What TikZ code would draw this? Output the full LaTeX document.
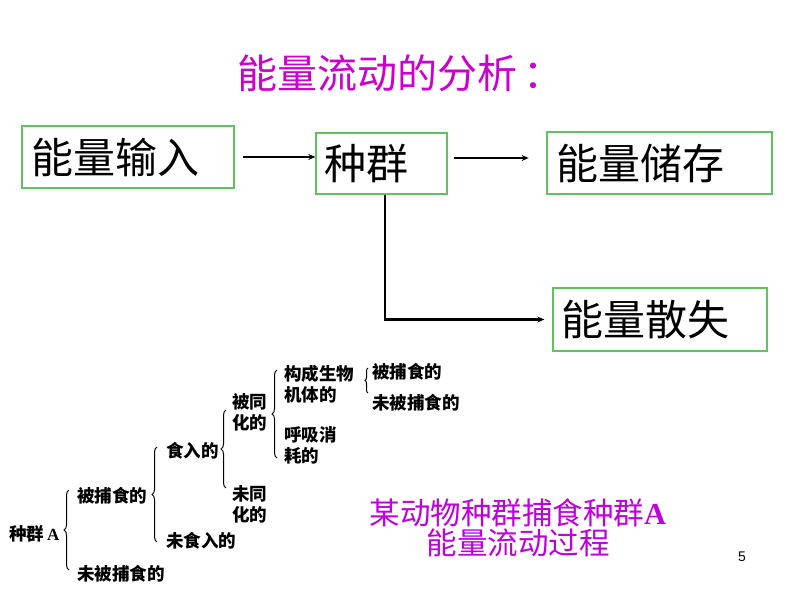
\documentclass[tikz,border=0pt]{standalone}
\usepackage{fontspec}
\setmainfont{Liberation Serif}
\newfontfamily\cjk{Noto Sans CJK SC}
\newfontfamily\numfont{Liberation Sans}
\usetikzlibrary{decorations.pathreplacing,arrows.meta}
\definecolor{ttl}{RGB}{204,0,204}
\definecolor{capc}{RGB}{190,0,220}
\definecolor{bgreen}{RGB}{95,195,95}
\begin{document}
\begin{tikzpicture}[x=1pt,y=-1pt,
  bigbox/.style={draw=bgreen, line width=1.3pt, rectangle, inner ysep=0pt, align=left,
    font=\cjk\fontsize{42}{44}\selectfont},
  arr/.style={line width=2.3pt, -{Stealth[length=7pt,width=6pt]}},
  tree/.style={anchor=west, inner sep=0pt, align=left, font=\cjk\bfseries\fontsize{17.5}{21}\selectfont},
  brc/.style={line width=1pt, decorate, decoration={brace, amplitude=5pt}}]
\useasboundingbox (0,0) rectangle (794,596);
\fill[white] (0,0) rectangle (794,596);
% title
\node[font=\cjk\fontsize{40}{42}\selectfont, text=ttl] (title) at (400,73) {能量流动的分析\hspace{6pt}：};
% boxes
\node[bigbox, minimum width=212pt, minimum height=62pt, text width=194pt, inner xsep=9pt] (b1) at (128,157) {\raisebox{-4pt}{能量输入}};
\node[bigbox, minimum width=131pt, minimum height=61pt, text width=115pt, inner xsep=8pt] (b2) at (381.5,163.5) {\raisebox{-3pt}{种群}};
\node[bigbox, minimum width=225pt, minimum height=62pt, text width=207pt, inner xsep=9pt] (b3) at (659.5,163) {\raisebox{-2pt}{能量储存}};
\node[bigbox, minimum width=214pt, minimum height=63pt, text width=198pt, inner xsep=8pt] (b4) at (660,319.5) {\raisebox{-2pt}{能量散失}};
% arrows
\draw[arr, shorten <=8pt] (b1.east) -- (b1.east -| b2.west);
\draw[arr] ([xshift=6pt,yshift=5.5pt]b2.east) -- ++(75,0);
\draw[arr, shorten >=8pt] ([xshift=3.5pt]b2.south) |- (b4.west);
% tree
\node[tree] (t0) at (9,534) {种群\,{\rmfamily\bfseries\fontsize{17}{21}\selectfont A}};
\node[tree] (t1) at (77,496) {被捕食的};
\node[tree] (t2) at (77,574) {未被捕食的};
\node[tree] (t3) at (166,451) {食入的};
\node[tree] (t4) at (166,541) {未食入的};
\node[tree] (t5) at (232,412) {被同\\化的};
\node[tree] (t6) at (232,504) {未同\\化的};
\node[tree] (t7) at (284,384) {构成生物\\机体的};
\node[tree] (t8) at (284,445) {呼吸消\\耗的};
\node[tree] (t9) at (372,372) {被捕食的};
\node[tree] (t10) at (372,403) {未被捕食的};
\draw[brc] (69,570) -- (69,490);
\draw[brc] (157,542) -- (157,447);
\draw[brc] (226,488) -- (226,410);
\draw[brc] (277,458) -- (277,370);
\draw[brc, decoration={amplitude=3pt}] (368,393) -- (368,368);
% caption
\node[text=capc, align=center, font=\cjk\fontsize{30.5}{30}\selectfont] (cap) at (518,528)
  {某动物种群捕食种群{\rmfamily\bfseries A}\\能量流动过程};
\node[font=\numfont\fontsize{14}{14}\selectfont] (pg) at (742,557) {5};
\end{tikzpicture}
\end{document}
